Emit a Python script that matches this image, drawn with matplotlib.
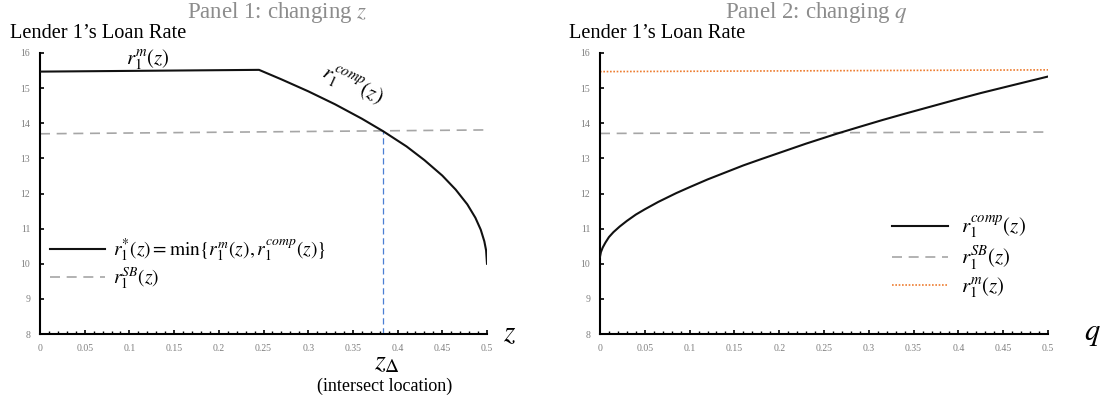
import matplotlib

matplotlib.use("Agg")

import matplotlib.pyplot as plt
from matplotlib.ticker import FuncFormatter, MultipleLocator

plt.rcParams["font.family"] = ["Liberation Serif", "DejaVu Serif"]
plt.rcParams["mathtext.fontset"] = "stix"

# Panel 1: rate against z
z_m = [0.0, 0.245]
r_m_z = [15.47, 15.52]
z_comp = [0.245, 0.27, 0.30, 0.33, 0.36, 0.384, 0.41, 0.43, 0.45, 0.465,
          0.478, 0.487, 0.493, 0.497, 0.499, 0.5]
r_comp_z = [15.52, 15.25, 14.91, 14.54, 14.13, 13.77, 13.34, 12.95, 12.51, 12.11,
            11.69, 11.31, 10.97, 10.64, 10.38, 10.0]
z_sb = [0.0, 0.5]
r_sb_z = [13.70, 13.81]
z_delta = 0.384
r_delta = 13.77

# Panel 2: rate against q
q_comp = [0.0, 0.001, 0.003, 0.006, 0.01, 0.015, 0.022, 0.03, 0.04, 0.05, 0.065,
          0.085, 0.1, 0.12, 0.14, 0.16, 0.18, 0.205, 0.23, 0.264, 0.29, 0.315,
          0.34, 0.37, 0.4, 0.425, 0.46, 0.5]
r_comp_q = [10.2, 10.33, 10.46, 10.6, 10.76, 10.9, 11.06, 11.22, 11.4, 11.55, 11.76,
            12.01, 12.18, 12.4, 12.6, 12.8, 12.98, 13.2, 13.42, 13.7, 13.9, 14.09,
            14.27, 14.48, 14.69, 14.86, 15.08, 15.33]
q_sb = [0.0, 0.5]
r_sb_q = [13.71, 13.75]
q_m = [0.0, 0.5]
r_m_q = [15.47, 15.52]

BLACK = "#111111"
GREY = "#a6a6a6"
ORANGE = "#ed7d31"
BLUE = "#4a7fd4"
TICK_GREY = "#7f7f7f"


def style_axes(ax):
    ax.set_xlim(0, 0.5)
    ax.set_ylim(8, 16)
    for side in ("top", "right"):
        ax.spines[side].set_visible(False)
    for side in ("left", "bottom"):
        ax.spines[side].set_linewidth(1.5)
        ax.spines[side].set_color("black")
    ax.xaxis.set_major_locator(MultipleLocator(0.05))
    ax.xaxis.set_minor_locator(MultipleLocator(0.01))
    ax.yaxis.set_major_locator(MultipleLocator(1))
    ax.xaxis.set_major_formatter(FuncFormatter(lambda v, _: f"{v:g}"))
    ax.yaxis.set_major_formatter(FuncFormatter(lambda v, _: f"{v:g}"))
    ax.tick_params(which="major", direction="in", length=3, width=1.2, color="black",
                   labelsize=7, labelcolor=TICK_GREY, pad=7)
    ax.tick_params(which="minor", direction="in", length=2, width=1.0, color="black")
    ax.set_facecolor("none")


fig = plt.figure(figsize=(11.07, 4.03), dpi=100)
ax1 = fig.add_axes([40 / 1107, 69 / 403, 447 / 1107, 281 / 403])
ax2 = fig.add_axes([600 / 1107, 69 / 403, 448 / 1107, 281 / 403])
style_axes(ax1)
style_axes(ax2)

# left panel: r* is r^m up to the kink, then r^comp
ax1.plot(z_sb, r_sb_z, color=GREY, lw=1.2, dashes=(6, 4), label=r"$r_1^{SB}(z)$", zorder=2)
ax1.plot(z_m + z_comp[1:], r_m_z + r_comp_z[1:], color=BLACK, lw=1.5,
         label=r"$r_1^{*}(z) = \min\{r_1^{m}(z), r_1^{comp}(z)\}$", zorder=3)
ax1.plot([z_delta, z_delta], [8, r_delta], color=BLUE, lw=0.9, dashes=(5, 3), zorder=1)
ax1.text(0.121, 15.8, r"$r_1^{m}(z)$", fontsize=15, ha="center", va="center")
ax1.text(0.349, 15.09, r"$r_1^{comp}(z)$", fontsize=15, ha="center", va="center", rotation=-25)
handles, labels = ax1.get_legend_handles_labels()
ax1.legend(handles[::-1], labels[::-1], loc="center left", bbox_to_anchor=(0.022, 0.25),
           frameon=False, fontsize=14, handlelength=2.85, labelspacing=0.05,
           handletextpad=0.4, borderpad=0, borderaxespad=0)
ax1.text(1.05, 0.0, r"$z$", transform=ax1.transAxes, fontsize=21, ha="center", va="center")
fig.text(387 / 1107, 1 - 363 / 403, r"$z_{\Delta}$", fontsize=20, ha="center", va="center")
fig.text(385 / 1107, 1 - 386 / 403, "(intersect location)", fontsize=13, ha="center", va="center")

# right panel
ax2.plot(q_comp, r_comp_q, color=BLACK, lw=1.5, label=r"$r_1^{comp}(z)$", zorder=3)
ax2.plot(q_sb, r_sb_q, color=GREY, lw=1.2, dashes=(6, 4), label=r"$r_1^{SB}(z)$", zorder=2)
ax2.plot(q_m, r_m_q, color=ORANGE, lw=1.2, linestyle=(0, (1, 1)), label=r"$r_1^{m}(z)$", zorder=2)
ax2.legend(loc="center left", bbox_to_anchor=(0.652, 0.274), frameon=False, fontsize=15,
           handlelength=2.7, labelspacing=0.15, handletextpad=0.6, borderpad=0,
           borderaxespad=0)
ax2.text(1.10, 0.0, r"$q$", transform=ax2.transAxes, fontsize=22, ha="center", va="center")

# headings
fig.text(277 / 1107, 1 - 18 / 403, r"Panel 1: changing $z$", fontsize=16.5, color="#8c8c8c",
         ha="center", va="baseline")
fig.text(816 / 1107, 1 - 18 / 403, r"Panel 2: changing $q$", fontsize=16.5, color="#8c8c8c",
         ha="center", va="baseline")
fig.text(10 / 1107, 1 - 38 / 403, "Lender 1\u2019s Loan Rate", fontsize=14.7, ha="left",
         va="baseline")
fig.text(569 / 1107, 1 - 38 / 403, "Lender 1\u2019s Loan Rate", fontsize=14.7, ha="left",
         va="baseline")

fig.savefig("out.png", dpi=100, facecolor="white")
plt.close(fig)
